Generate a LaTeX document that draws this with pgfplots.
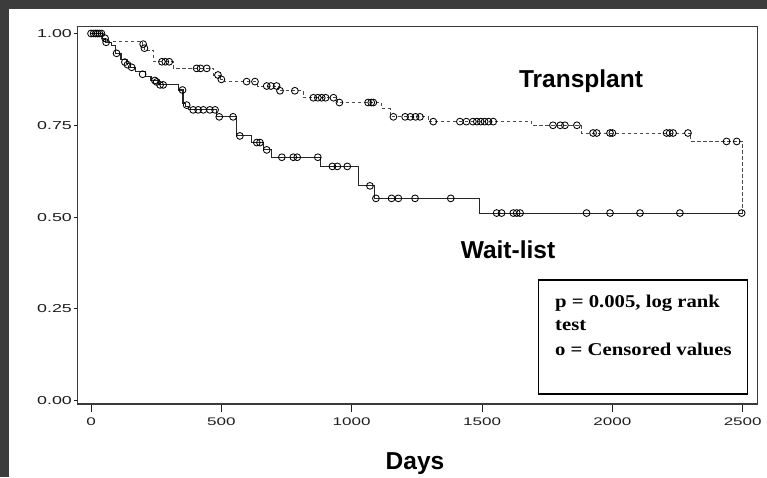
\documentclass[border=0pt]{standalone}
\usepackage{fontspec}
\setmainfont{Liberation Serif}
\newfontfamily\tickfont[FakeStretch=1.55]{Liberation Sans}
\newfontfamily\labfont[FakeStretch=1.0]{Liberation Sans}
\newfontfamily\boxfont[FakeStretch=1.15]{Liberation Serif}
\usepackage{pgfplots}
\pgfplotsset{compat=1.18}
\definecolor{darkbg}{HTML}{3C3C3C}
\definecolor{framec}{HTML}{3A3A3A}
\definecolor{tickc}{HTML}{1E1E1E}
\definecolor{waitc}{HTML}{262626}
\definecolor{transc}{HTML}{4A4A4A}

\pgfplotstableread{
x y
0 1.0
45 0.987
56 0.976
79 0.967
95 0.946
115 0.928
135 0.918
150 0.908
170 0.896
210 0.884
230 0.873
260 0.860
335 0.846
353 0.81
362 0.80
375 0.792
482 0.773
559 0.721
616 0.703
663 0.683
693 0.663
880 0.638
1025 0.585
1089 0.551
1492 0.511
2500 0.511
}\waitline

\pgfplotstableread{
x y
0 1
10 1
18 1
25 1
32 1
40 1
54 0.987
58 0.976
98 0.946
130 0.922
140 0.915
156 0.908
198 0.889
245 0.872
252 0.868
265 0.860
277 0.860
351 0.846
367 0.805
392 0.792
411 0.792
431 0.792
456 0.792
476 0.792
492 0.773
545 0.773
571 0.721
636 0.703
648 0.703
674 0.683
732 0.663
776 0.663
791 0.663
870 0.663
926 0.638
945 0.638
983 0.638
1070 0.585
1093 0.551
1153 0.551
1179 0.551
1243 0.551
1380 0.551
1556 0.511
1575 0.511
1620 0.511
1633 0.511
1646 0.511
1901 0.511
1991 0.511
2106 0.511
2259 0.511
2496 0.511
}\waitmarks

\pgfplotstableread{
x y
0 1.0
48 0.978
197 0.966
205 0.955
240 0.923
315 0.905
470 0.887
497 0.875
510 0.869
640 0.857
718 0.844
815 0.825
945 0.812
1115 0.795
1150 0.773
1294 0.760
1690 0.750
1880 0.729
2300 0.706
2498 0.511
}\transline

\pgfplotstableread{
x y
200 0.971
205 0.960
272 0.923
285 0.923
300 0.923
405 0.905
420 0.905
444 0.905
487 0.887
500 0.875
597 0.869
629 0.869
674 0.857
690 0.857
712 0.857
725 0.844
782 0.844
853 0.825
870 0.825
885 0.825
900 0.825
930 0.825
953 0.812
1063 0.812
1075 0.812
1083 0.812
1160 0.773
1205 0.773
1225 0.773
1245 0.773
1262 0.773
1313 0.760
1415 0.760
1440 0.760
1465 0.760
1480 0.760
1495 0.760
1510 0.760
1525 0.760
1543 0.760
1772 0.750
1800 0.750
1818 0.750
1864 0.750
1926 0.729
1940 0.729
1991 0.729
2000 0.729
2208 0.729
2220 0.729
2233 0.729
2290 0.729
2438 0.706
2477 0.706
}\transmarks

\begin{document}
\begin{tikzpicture}[x=1pt,y=1pt]
\fill[darkbg] (0pt,0pt) rectangle (767pt,477pt);
\fill[white] (9pt,0pt) rectangle (767pt,468pt);
\path[use as bounding box] (0pt,0pt) rectangle (767pt,477pt);
\begin{axis}[
  at={(77.3pt,73pt)}, anchor=south west,
  scale only axis, width=680pt, height=377.3pt,
  xmin=-52.6, xmax=2556, ymin=-0.009, ymax=1.0185,
  axis line style={framec, line width=1.2pt},
  tick align=outside,
  xtick={0,500,1000,1500,2000,2500},
  xticklabels={0,500,1000,1500,2000,2500},
  ytick={0,0.25,0.5,0.75,1},
  yticklabels={0.00,0.25,0.50,0.75,1.00},
  xtick pos=bottom, ytick pos=left,
  xtick style={tickc, line width=0.9pt, /pgfplots/major tick length=8pt},
  ytick style={tickc, line width=0.9pt, /pgfplots/major tick length=3pt},
  xticklabel style={font=\tickfont\fontsize{11}{12}\selectfont, text=tickc, yshift=-6pt},
  yticklabel style={font=\tickfont\fontsize{11.5}{12}\selectfont, text=tickc, inner sep=1pt},
  clip=false,
]
\addplot[const plot, transc, line width=0.9pt, dash pattern=on 3.5pt off 2.5pt] table {\transline};
\addplot[const plot, waitc, line width=1.1pt] table {\waitline};
\addplot[only marks, mark=o, mark size=3.4pt, mark options={line width=0.85pt, draw=black}] table {\transmarks};
\addplot[only marks, mark=o, mark size=3.4pt, mark options={line width=0.85pt, draw=black}] table {\waitmarks};
\end{axis}
\node[anchor=base, font=\labfont\bfseries\fontsize{24.5}{27}\selectfont] at (581pt,389pt) {Transplant};
\node[anchor=base, font=\labfont\bfseries\fontsize{24.5}{27}\selectfont] at (508pt,219pt) {Wait-list};
\node[anchor=base, font=\labfont\bfseries\fontsize{24.5}{27}\selectfont] at (415pt,8pt) {Days};
\draw[black, line width=1.3pt] (538.3pt,83pt) rectangle (747.7pt,197pt);
\node[anchor=base west, inner sep=0pt, font=\boxfont\bfseries\fontsize{18}{20}\selectfont] at (555pt,170pt) {p = 0.005, log rank};
\node[anchor=base west, inner sep=0pt, font=\boxfont\bfseries\fontsize{18}{20}\selectfont] at (555pt,147pt) {test};
\node[anchor=base west, inner sep=0pt, font=\boxfont\bfseries\fontsize{18}{20}\selectfont] at (555pt,122pt) {o = Censored values};
\end{tikzpicture}
\end{document}
